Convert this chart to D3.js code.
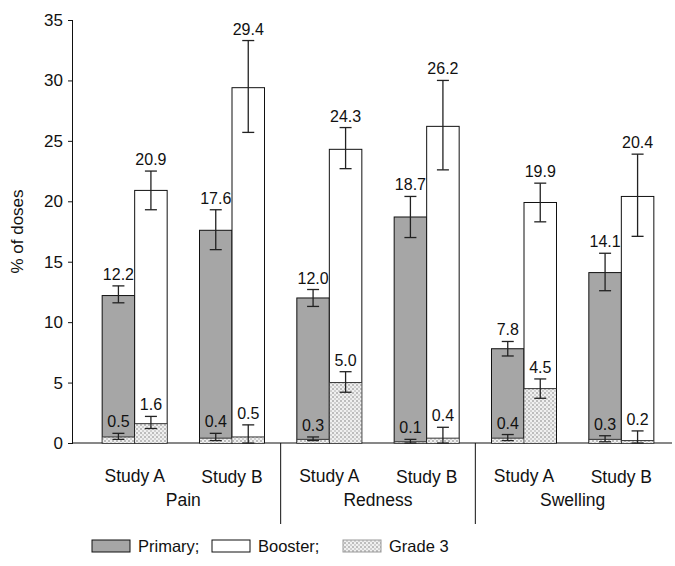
<!DOCTYPE html>
<html><head><meta charset="utf-8">
<script src="https://cdn.jsdelivr.net/npm/d3@7"></script>
<style>body{margin:0;background:#fff}text{font-family:"Liberation Sans",Arial,sans-serif;fill:#111}</style>
</head><body><svg id="c" width="675" height="566"></svg>
<script>
const groups = ["Pain", "Redness", "Swelling"];
const studies = ["Study A", "Study B"];
const yTicks = [0, 5, 10, 15, 20, 25, 30, 35];
// order: Pain A, Pain B, Redness A, Redness B, Swelling A, Swelling B
const primary = [12.2, 17.6, 12.0, 18.7, 7.8, 14.1];
const primaryLo = [11.6, 16.0, 11.3, 17.0, 7.2, 12.6];
const primaryHi = [13.0, 19.3, 12.7, 20.4, 8.4, 15.7];
const booster = [20.9, 29.4, 24.3, 26.2, 19.9, 20.4];
const boosterLo = [19.3, 25.7, 22.7, 22.6, 18.3, 17.1];
const boosterHi = [22.5, 33.3, 26.1, 30.0, 21.5, 23.9];
const primaryG3 = [0.5, 0.4, 0.3, 0.1, 0.4, 0.3];
const primaryG3Lo = [0.3, 0.2, 0.2, 0.0, 0.2, 0.1];
const primaryG3Hi = [0.8, 0.8, 0.5, 0.3, 0.7, 0.6];
const boosterG3 = [1.6, 0.5, 5.0, 0.4, 4.5, 0.2];
const boosterG3Lo = [1.2, 0.0, 4.2, 0.0, 3.7, 0.0];
const boosterG3Hi = [2.2, 1.5, 5.9, 1.3, 5.3, 1.0];
const legendLabels = ["Primary;", "Booster;", "Grade 3"];

const svg = d3.select("#c");
const defs = svg.append("defs");
const pat = defs.append("pattern").attr("id","dots").attr("width",4).attr("height",4).attr("patternUnits","userSpaceOnUse");
pat.append("rect").attr("width",4).attr("height",4).attr("fill","#f0f0f0");
pat.append("rect").attr("x",0).attr("y",0).attr("width",2).attr("height",2).attr("fill","#bdbdbd");
pat.append("rect").attr("x",2).attr("y",2).attr("width",2).attr("height",2).attr("fill","#d0d0d0");

const slots = d3.range(6);
const x = d3.scaleBand().domain(slots).range([86, 670]).paddingInner(0);
const y = d3.scaleLinear().domain([0, 35]).range([443, 20]);
const bw = 32.5;

// y axis
const yAxis = d3.axisLeft(y).tickValues(yTicks).tickSize(5).tickPadding(5).tickFormat(d3.format("d"));
const ga = svg.append("g").attr("transform","translate(73,0)").call(yAxis);
ga.select(".domain").attr("stroke","#111").attr("d","M-0.5,20V443");
ga.selectAll(".tick line").attr("stroke","#111");
ga.selectAll(".tick text").style("font-size","17px").attr("fill","#111");
// baseline
svg.append("line").attr("x1",73).attr("x2",672).attr("y1",y(0)).attr("y2",y(0)).attr("stroke","#111");

svg.append("text").attr("transform","translate(23,"+((y(0)+y(35))/2)+") rotate(-90)")
  .attr("text-anchor","middle").style("font-size","17px").text("% of doses");

const cx = i => x(i) + x.bandwidth()/2;

function errBar(xc, lo, hi) {
  const g = svg.append("g").attr("stroke","#222").attr("stroke-width",1.3);
  g.append("line").attr("x1",xc).attr("x2",xc).attr("y1",y(lo)).attr("y2",y(hi));
  g.append("line").attr("x1",xc-6).attr("x2",xc+6).attr("y1",y(lo)).attr("y2",y(lo));
  g.append("line").attr("x1",xc-6).attr("x2",xc+6).attr("y1",y(hi)).attr("y2",y(hi));
}
function label(xc, hi, v) {
  svg.append("text").attr("x",xc).attr("y",y(hi)-6).attr("text-anchor","middle")
    .style("font-size","16px").text(d3.format(".1f")(v));
}

slots.forEach(i => {
  const xp = cx(i) - bw, xb = cx(i);
  svg.append("rect").attr("x",xp).attr("y",y(primary[i])).attr("width",bw).attr("height",y(0)-y(primary[i]))
    .attr("fill","#a6a6a6").attr("stroke","#111").attr("stroke-width",1);
  svg.append("rect").attr("x",xb).attr("y",y(booster[i])).attr("width",bw).attr("height",y(0)-y(booster[i]))
    .attr("fill","#fff").attr("stroke","#111").attr("stroke-width",1);
  [[xp, primaryG3[i]], [xb, boosterG3[i]]].forEach(([xx, v]) => {
    svg.append("rect").attr("x",xx+0.5).attr("y",y(v)).attr("width",bw-1).attr("height",y(0)-y(v))
      .attr("fill","url(#dots)");
    svg.append("line").attr("x1",xx).attr("x2",xx+bw).attr("y1",y(v)).attr("y2",y(v)).attr("stroke","#333").attr("stroke-width",1);
  });
  errBar(xp+bw/2, primaryLo[i], primaryHi[i]);
  errBar(xb+bw/2, boosterLo[i], boosterHi[i]);
  errBar(xp+bw/2, primaryG3Lo[i], primaryG3Hi[i]);
  errBar(xb+bw/2, boosterG3Lo[i], boosterG3Hi[i]);
  label(xp+bw/2, primaryHi[i], primary[i]);
  label(xb+bw/2, boosterHi[i], booster[i]);
  label(xp+bw/2, primaryG3Hi[i], primaryG3[i]);
  label(xb+bw/2, boosterG3Hi[i], boosterG3[i]);
  svg.append("text").attr("x",cx(i)).attr("y",482 + (i%2)).attr("text-anchor","middle")
    .style("font-size","17.5px").text(studies[i%2]);
});
groups.forEach((g, k) => {
  svg.append("text").attr("x",(cx(2*k)+cx(2*k+1))/2).attr("y",506).attr("text-anchor","middle")
    .style("font-size","17.5px").text(g);
  if (k > 0) {
    const sx = x(2*k);
    svg.append("line").attr("x1",sx).attr("x2",sx).attr("y1",y(0)).attr("y2",524).attr("stroke","#111");
  }
});
const lg = svg.append("g").attr("transform","translate(0,546)");
const lx = [92, 212, 343];
const fills = ["#a6a6a6", "#fff", "url(#dots)"];
legendLabels.forEach((t, k) => {
  lg.append("rect").attr("x",lx[k]).attr("y",-6).attr("width",38).attr("height",12)
    .attr("fill",fills[k]).attr("stroke", k===2 ? "#999" : "#111");
  lg.append("text").attr("x",lx[k]+46).attr("y",6).style("font-size","16.5px").text(t);
});
</script></body></html>
